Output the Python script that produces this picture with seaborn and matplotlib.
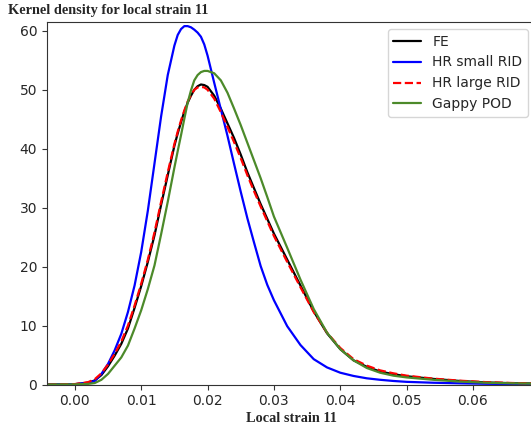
import numpy as np
import pandas as pd
import matplotlib
matplotlib.use("Agg")
import matplotlib.pyplot as plt
import seaborn as sns

# strain grid
strain = [-0.004, 0.0, 0.002, 0.003, 0.004, 0.005, 0.006, 0.007, 0.008, 0.009,
          0.010, 0.011, 0.012, 0.013, 0.014, 0.015, 0.0155, 0.016, 0.0165, 0.017,
          0.0175, 0.018, 0.0185, 0.019, 0.0195, 0.020, 0.021, 0.022, 0.023, 0.024,
          0.025, 0.026, 0.027, 0.028, 0.029, 0.030, 0.032, 0.034, 0.036, 0.038,
          0.040, 0.042, 0.044, 0.046, 0.048, 0.050, 0.054, 0.058, 0.062, 0.066,
          0.070]

fe = [0.0, 0.05, 0.3, 0.7, 1.6, 3.1, 4.9, 6.9, 9.5, 13.0,
      16.7, 20.8, 25.3, 30.5, 35.5, 40.5, 42.6, 44.5, 46.3, 47.8,
      49.0, 50.0, 50.6, 50.9, 50.8, 50.5, 49.0, 46.8, 44.3, 41.8,
      39.0, 36.0, 33.3, 30.6, 28.1, 25.6, 21.2, 16.8, 12.4, 8.7,
      6.0, 4.1, 3.0, 2.2, 1.75, 1.4, 0.95, 0.6, 0.35, 0.22,
      0.15]

hr_small = [0.0, 0.05, 0.3, 0.6, 1.8, 3.5, 5.8, 8.6, 12.3, 16.8,
            22.5, 29.5, 37.5, 45.5, 52.5, 57.5, 59.3, 60.3, 60.8, 60.8,
            60.6, 60.2, 59.7, 59.0, 57.7, 55.8, 51.2, 46.7, 42.2, 37.4,
            32.7, 28.2, 24.1, 20.1, 16.9, 14.3, 9.9, 6.7, 4.3, 2.9,
            2.0, 1.45, 1.05, 0.8, 0.6, 0.45, 0.3, 0.2, 0.12, 0.08,
            0.05]

hr_large = [0.0, 0.07, 0.4, 0.9, 1.9, 3.4, 5.2, 7.3, 10.0, 13.4,
            17.1, 21.2, 25.8, 31.0, 36.0, 40.8, 42.9, 44.8, 46.5, 48.0,
            49.1, 50.0, 50.4, 50.5, 50.4, 50.0, 48.5, 46.2, 43.7, 41.1,
            38.4, 35.5, 32.8, 30.2, 27.7, 25.2, 20.8, 16.5, 12.3, 8.8,
            6.2, 4.3, 3.2, 2.4, 1.9, 1.5, 1.0, 0.65, 0.4, 0.25,
            0.17]

gappy = [0.0, 0.02, 0.1, 0.25, 0.8, 1.8, 3.2, 4.6, 6.6, 9.5,
         12.6, 16.2, 20.2, 25.5, 31.0, 36.8, 39.6, 42.3, 45.1, 47.8,
         49.9, 51.6, 52.5, 53.0, 53.2, 53.2, 52.8, 51.6, 49.5, 46.8,
         44.0, 41.0, 38.0, 35.0, 31.8, 28.5, 23.2, 17.8, 12.8, 8.8,
         6.0, 4.1, 2.8, 2.0, 1.5, 1.2, 0.8, 0.5, 0.3, 0.2,
         0.12]

labels = ["FE", "HR small RID", "HR large RID", "Gappy POD"]
series = [fe, hr_small, hr_large, gappy]
colors = ["black", "#0000ff", "#ff0000", "#4c8a2a"]
styles = ["-", "-", "--", "-"]

sns.set_style("ticks")
plt.rcParams["font.family"] = ["DejaVu Sans"]

fig = plt.figure(figsize=(5.31, 4.32), dpi=100)
ax = fig.add_axes([47 / 531, 47.5 / 432, (535 - 47) / 531, (410 - 47.5) / 432])

for lab, vals, c, ls in zip(labels, series, colors, styles):
    df = pd.DataFrame({"strain": strain, "density": vals})
    sns.lineplot(data=df, x="strain", y="density", ax=ax, color=c,
                 linestyle=ls, linewidth=1.6, label=lab)

ax.set_xlim(-0.0042, 0.06935)
ax.set_ylim(0, 61.5)
ax.set_xticks([0.0, 0.01, 0.02, 0.03, 0.04, 0.05, 0.06])
ax.set_xticklabels(["0.00", "0.01", "0.02", "0.03", "0.04", "0.05", "0.06"])
ax.set_yticks([0, 10, 20, 30, 40, 50, 60])
ax.tick_params(labelsize=10, length=3.5, width=0.8, color="#333333")
for sp in ax.spines.values():
    sp.set_color("#333333")
    sp.set_linewidth(0.8)

ax.set_xlabel("Local strain 11", fontfamily="Liberation Serif",
              fontweight="bold", fontsize=10.3, labelpad=3)
ax.set_ylabel("")
fig.text(8 / 531, 1 - 10.5 / 432, "Kernel density for local strain 11",
         fontfamily="Liberation Serif", fontweight="bold", fontsize=10.3,
         ha="left", va="center")

ax.legend(loc="upper right", fontsize=10, frameon=True)

fig.savefig("out.png", dpi=100)
